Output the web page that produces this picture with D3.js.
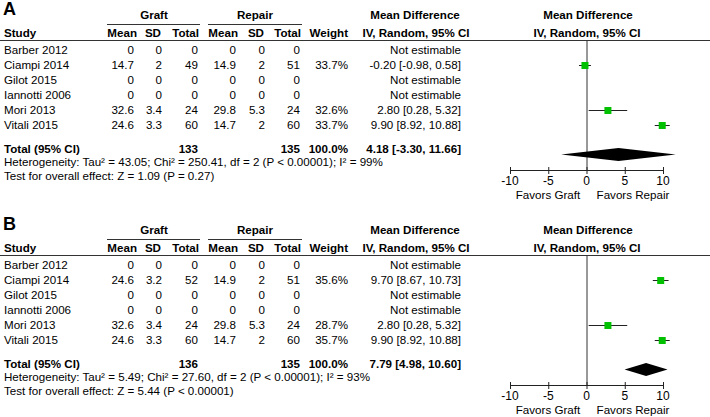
<!DOCTYPE html>
<html>
<head>
<meta charset="utf-8">
<script src="https://cdn.jsdelivr.net/npm/d3@7"></script>
<style>
  body { margin: 0; background: #fff; }
  svg text { font-family: "Liberation Sans", Arial, sans-serif; font-size: 11.6px; fill: #000; }
</style>
</head>
<body>
<div id="chart"></div>
<script>
const WIDTH = 710;
const HEIGHT = 417;
const PANEL_OFFSET = 215;

// data
const studies = ["Barber 2012", "Ciampi 2014", "Gilot 2015", "Iannotti 2006", "Mori 2013", "Vitali 2015"];

const graftMeanA = [0, 14.7, 0, 0, 32.6, 24.6];
const graftSDA = [0, 2, 0, 0, 3.4, 3.3];
const graftNA = [0, 49, 0, 0, 24, 60];
const repairMeanA = [0, 14.9, 0, 0, 29.8, 14.7];
const repairSDA = [0, 2, 0, 0, 5.3, 2];
const repairNA = [0, 51, 0, 0, 24, 60];
const weightA = [null, 33.7, null, null, 32.6, 33.7];
const mdA = [null, -0.20, null, null, 2.80, 9.90];
const loA = [null, -0.98, null, null, 0.28, 8.92];
const hiA = [null, 0.58, null, null, 5.32, 10.88];
const totalNA = [133, 135];
const pooledA = [4.18, -3.30, 11.66];
const hetA = "Heterogeneity: Tau² = 43.05; Chi² = 250.41, df = 2 (P < 0.00001); I² = 99%";
const testA = "Test for overall effect: Z = 1.09 (P = 0.27)";

const graftMeanB = [0, 24.6, 0, 0, 32.6, 24.6];
const graftSDB = [0, 3.2, 0, 0, 3.4, 3.3];
const graftNB = [0, 52, 0, 0, 24, 60];
const repairMeanB = [0, 14.9, 0, 0, 29.8, 14.7];
const repairSDB = [0, 2, 0, 0, 5.3, 2];
const repairNB = [0, 51, 0, 0, 24, 60];
const weightB = [null, 35.6, null, null, 28.7, 35.7];
const mdB = [null, 9.70, null, null, 2.80, 9.90];
const loB = [null, 8.67, null, null, 0.28, 8.92];
const hiB = [null, 10.73, null, null, 5.32, 10.88];
const totalNB = [136, 135];
const pooledB = [7.79, 4.98, 10.60];
const hetB = "Heterogeneity: Tau² = 5.49; Chi² = 27.60, df = 2 (P < 0.00001); I² = 93%";
const testB = "Test for overall effect: Z = 5.44 (P < 0.00001)";

const axisTicks = [-10, -5, 0, 5, 10];
const favorLabels = ["Favors Graft", "Favors Repair"];

const svg = d3.select("#chart").append("svg")
    .attr("width", WIDTH)
    .attr("height", HEIGHT);

const x = d3.scaleLinear().domain([-10, 10]).range([510, 663]);
// plain hyphen for negatives, like the original
const fmt2 = v => d3.format(".2f")(v).replace("\u2212", "-");
const fmtW = d3.format(".1f");

function drawPanel(g, label, p) {
    const rowY = d3.scaleLinear().domain([0, 1]).range([54, 69]); // baselines of study rows

    g.append("text").attr("x", 3).attr("y", 15)
        .style("font-size", "18px").style("font-weight", "bold").text(label);

    // group headers
    g.append("text").attr("x", 154).attr("y", 19).attr("text-anchor", "middle")
        .style("font-weight", "bold").text("Graft");
    g.append("text").attr("x", 255).attr("y", 19).attr("text-anchor", "middle")
        .style("font-weight", "bold").text("Repair");
    g.append("line").attr("x1", 107).attr("x2", 200).attr("y1", 24.5).attr("y2", 24.5)
        .attr("stroke", "#333");
    g.append("line").attr("x1", 208).attr("x2", 302).attr("y1", 24.5).attr("y2", 24.5)
        .attr("stroke", "#333");
    g.append("text").attr("x", 415).attr("y", 19).attr("text-anchor", "middle")
        .style("font-weight", "bold").text("Mean Difference");
    g.append("text").attr("x", 588).attr("y", 19).attr("text-anchor", "middle")
        .style("font-weight", "bold").text("Mean Difference");

    // column headers
    const cols = [
        {name: "Mean", x: 137}, {name: "SD", x: 161}, {name: "Total", x: 199},
        {name: "Mean", x: 238}, {name: "SD", x: 264}, {name: "Total", x: 301},
        {name: "Weight", x: 348}
    ];
    g.append("text").attr("x", 4).attr("y", 37).style("font-weight", "bold").text("Study");
    g.selectAll(".colhead").data(cols).enter().append("text")
        .attr("x", d => d.x).attr("y", 37).attr("text-anchor", "end")
        .style("font-weight", "bold").text(d => d.name);
    g.append("text").attr("x", 416).attr("y", 37).attr("text-anchor", "middle")
        .style("font-weight", "bold").text("IV, Random, 95% CI");
    g.append("text").attr("x", 587).attr("y", 37).attr("text-anchor", "middle")
        .style("font-weight", "bold").text("IV, Random, 95% CI");

    g.append("line").attr("x1", 0).attr("x2", WIDTH).attr("y1", 40.5).attr("y2", 40.5)
        .attr("stroke", "#333");

    // study rows
    const rows = studies.map((s, i) => ({
        study: s,
        cells: [p.gm[i], p.gs[i], p.gn[i], p.rm[i], p.rs[i], p.rn[i]],
        w: p.w[i], md: p.md[i], lo: p.lo[i], hi: p.hi[i], i: i
    }));
    const cellX = [134, 162, 198, 236, 265, 300];

    const row = g.selectAll(".row").data(rows).enter().append("g")
        .attr("transform", d => "translate(0," + rowY(d.i) + ")");
    row.append("text").attr("x", 4).text(d => d.study);
    row.selectAll(".cell").data(d => d.cells).enter().append("text")
        .attr("x", (d, j) => cellX[j]).attr("text-anchor", "end").text(d => d);
    row.append("text").attr("x", 348).attr("text-anchor", "end")
        .text(d => d.w == null ? "" : fmtW(d.w) + "%");
    row.append("text").attr("x", 461).attr("text-anchor", "end")
        .text(d => d.md == null ? "Not estimable" :
            fmt2(d.md) + " [" + fmt2(d.lo) + ", " + fmt2(d.hi) + "]");

    // total row
    const ty = 153;
    g.append("text").attr("x", 4).attr("y", ty).style("font-weight", "bold").text("Total (95% CI)");
    g.append("text").attr("x", 198).attr("y", ty).attr("text-anchor", "end")
        .style("font-weight", "bold").text(p.tn[0]);
    g.append("text").attr("x", 300).attr("y", ty).attr("text-anchor", "end")
        .style("font-weight", "bold").text(p.tn[1]);
    g.append("text").attr("x", 348).attr("y", ty).attr("text-anchor", "end")
        .style("font-weight", "bold").text("100.0%");
    g.append("text").attr("x", 461).attr("y", ty).attr("text-anchor", "end")
        .style("font-weight", "bold")
        .text(fmt2(p.pooled[0]) + " [" + fmt2(p.pooled[1]) + ", " + fmt2(p.pooled[2]) + "]");
    g.append("text").attr("x", 4).attr("y", 166).text(p.het);
    g.append("text").attr("x", 4).attr("y", 180).text(p.test);

    // forest plot
    const axisY = 170.5;
    g.append("line").attr("x1", x(0) + 0.5).attr("x2", x(0) + 0.5)
        .attr("y1", 40).attr("y2", axisY).attr("stroke", "#333");

    const est = rows.filter(d => d.md != null);
    g.selectAll(".ci").data(est).enter().append("line")
        .attr("x1", d => x(d.lo)).attr("x2", d => x(d.hi))
        .attr("y1", d => rowY(d.i) - 3.5).attr("y2", d => rowY(d.i) - 3.5)
        .attr("stroke", "#222");
    g.selectAll(".sq").data(est).enter().append("rect")
        .attr("x", d => x(d.md) - 3.5).attr("y", d => rowY(d.i) - 7)
        .attr("width", 7).attr("height", 7)
        .attr("fill", "#00c000");

    const dy = 154.5;
    const dh = 6.5;
    g.append("path")
        .attr("d", "M" + x(p.pooled[1]) + "," + dy +
            "L" + x(p.pooled[0]) + "," + (dy - dh) +
            "L" + x(p.pooled[2]) + "," + dy +
            "L" + x(p.pooled[0]) + "," + (dy + dh) + "Z")
        .attr("fill", "#000");

    const ax = g.append("g").attr("transform", "translate(0," + axisY + ")");
    ax.append("line").attr("x1", x(-10)).attr("x2", x(10)).attr("stroke", "#222");
    ax.selectAll(".tk").data(axisTicks).enter().append("line")
        .attr("x1", d => x(d) + 0.5).attr("x2", d => x(d) + 0.5)
        .attr("y1", -3.5).attr("y2", 3.5).attr("stroke", "#222");
    ax.selectAll(".tl").data(axisTicks).enter().append("text")
        .attr("x", d => x(d)).attr("y", 14).attr("text-anchor", "middle")
        .style("font-size", "12px").text(d => d);
    g.append("text").attr("x", 548).attr("y", 199).attr("text-anchor", "middle").text(favorLabels[0]);
    g.append("text").attr("x", 633).attr("y", 199).attr("text-anchor", "middle").text(favorLabels[1]);
}

drawPanel(svg.append("g"), "A", {
    gm: graftMeanA, gs: graftSDA, gn: graftNA,
    rm: repairMeanA, rs: repairSDA, rn: repairNA,
    w: weightA, md: mdA, lo: loA, hi: hiA,
    tn: totalNA, pooled: pooledA, het: hetA, test: testA
});

drawPanel(svg.append("g").attr("transform", "translate(0," + PANEL_OFFSET + ")"), "B", {
    gm: graftMeanB, gs: graftSDB, gn: graftNB,
    rm: repairMeanB, rs: repairSDB, rn: repairNB,
    w: weightB, md: mdB, lo: loB, hi: hiB,
    tn: totalNB, pooled: pooledB, het: hetB, test: testB
});
</script>
</body>
</html>
